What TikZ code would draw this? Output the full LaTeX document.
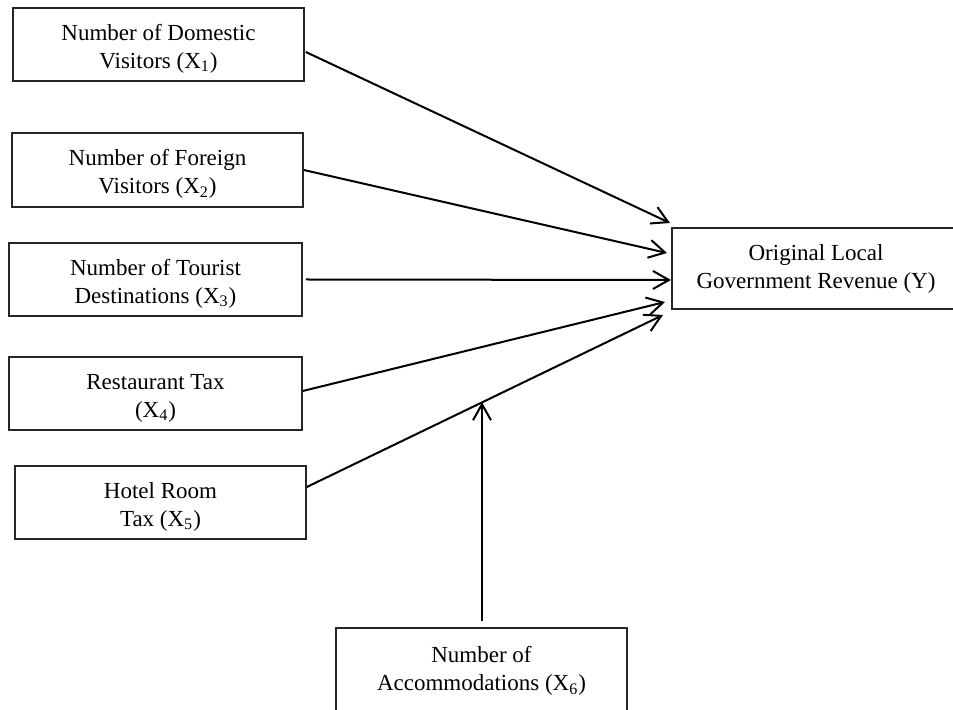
\documentclass[tikz,border=0pt]{standalone}
\usepackage{fontspec}
\setmainfont{Liberation Serif}
\usetikzlibrary{arrows.meta,calc}
\newcommand{\toplift}{\rule{0pt}{12.3pt}}
\begin{document}
\begin{tikzpicture}[x=0.5pt,y=-0.5pt,
  varbox/.style={draw=black!85,line width=0.8pt,rectangle,align=center,inner sep=0pt,
    font=\fontsize{11.5pt}{14pt}\selectfont},
  link/.style={line width=1pt,-{Straight Barb[length=8pt,width=9pt,line width=1pt]}}]
\useasboundingbox (0,0) rectangle (953,710);
\clip (0,0) rectangle (953,710);
\fill[white] (0,0) rectangle (953,710);
\node[varbox,minimum width=145.5pt,minimum height=36.5pt] (X1) at (158.5,44.5) {\toplift Number of Domestic\\Visitors (X\textsubscript{1})};
\node[varbox,minimum width=145.5pt,minimum height=37pt] (X2) at (157.5,170) {\toplift Number of Foreign\\Visitors (X\textsubscript{2})};
\node[varbox,minimum width=146.5pt,minimum height=36.5pt] (X3) at (155.5,279.5) {\toplift Number of Tourist\\Destinations (X\textsubscript{3})};
\node[varbox,minimum width=146.5pt,minimum height=36.5pt] (X4) at (155.5,393.5) {\toplift Restaurant Tax\\(X\textsubscript{4})};
\node[varbox,minimum width=145.5pt,minimum height=36.5pt] (X5) at (160.5,502.5) {\toplift Hotel Room\\Tax (X\textsubscript{5})};
\node[varbox,minimum width=145.5pt,minimum height=43pt] (X6) at (481.5,671) {Number of\\Accommodations (X\textsubscript{6})};
\node[varbox,minimum width=144pt,minimum height=40.5pt] (Y) at (816,268.5) {Original Local\\Government Revenue (Y)};
% end points near Y
\coordinate (e1) at (670,223);
\coordinate (e2) at (667,253);
\coordinate (e3) at (671,280);
\coordinate (e4) at (665,302);
\coordinate (e5) at (663,315);
\coordinate (s1) at ($(X1.east)+(1,7.5)$);
\coordinate (s5) at ($(X5.east)+(0,-15.5)$);
\draw[link] (s1) -- (e1);
\draw[link] (X2.east) -- (e2);
\draw[link] ($(X3.east)+(3,0)$) -- (e3);
\draw[link] ($(X4.east)+(0,-2.5)$) -- (e4);
\draw[link] (s5) -- (e5);
\coordinate (m) at ($(s5)!0.493!(e5)$);
\draw[link] ($(X6.north)+(0.5,-6)$) -- (m -| {$(X6.north)+(0.5,0)$});
\end{tikzpicture}
\end{document}
